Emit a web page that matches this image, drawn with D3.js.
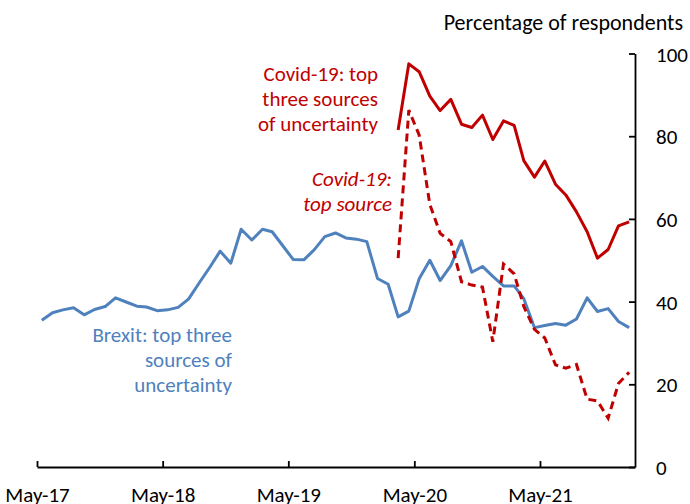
<!DOCTYPE html>
<html>
<head>
<meta charset="utf-8">
<script src="https://cdn.jsdelivr.net/npm/d3@7"></script>
<style>
  html, body { margin: 0; padding: 0; background: #fff; }
  svg { display: block; font-family: Calibri, Carlito, Lato, sans-serif; }
</style>
</head>
<body>
<svg id="chart" width="690" height="504"></svg>
<script>
// ---- data ----
const brexitStart = "2017-05";
const brexitTop3 = [35.5, 37.3, 38.0, 38.5, 36.8, 38.1, 38.8, 40.9,
  39.9, 38.9, 38.7, 37.8, 38.0, 38.6, 40.6, 44.5, 48.3, 52.2, 49.3, 57.5,
  54.9, 57.5, 56.9, 53.5, 50.2, 50.1, 52.5, 55.7, 56.6, 55.4, 55.1, 54.5,
  45.6, 44.2, 36.3, 37.7, 45.5, 50.0, 45.1, 48.7, 54.7, 47.1, 48.5, 46.1,
  43.8, 43.8, 40.7, 33.7, 34.2, 34.7, 34.3, 35.8, 40.9, 37.6, 38.3, 35.2,
  33.7];
const covidStart = "2020-03";
const covidTop3 = [81.5, 97.5, 95.6, 89.7, 86.2, 88.9, 82.9, 82.1, 85.1, 79.2,
  83.7, 82.6, 74.1, 70.1, 74.0, 68.4, 65.8, 61.7, 56.9, 50.5, 52.6, 58.3, 59.3];
const covidTop1 = [50.5, 86.3, 80.3, 63.5, 56.5, 54.5, 44.8, 44.0, 43.5, 30.3,
  49.1, 46.7, 38.8, 33.3, 31.2, 24.7, 23.9, 24.8, 16.4, 16.0, 11.8, 20.2, 22.9];
const xTickLabels = ["May-17", "May-18", "May-19", "May-20", "May-21"];
const yTicks = [0, 20, 40, 60, 80, 100];
const yAxisTitle = "Percentage of respondents";
const labelCovidTop3 = ["Covid-19: top", "three sources", "of uncertainty"];
const labelCovidTop1 = ["Covid-19:", "top source"];
const labelBrexit = ["Brexit: top three", "sources of", "uncertainty"];

// ---- helpers ----
const parseMonth = d3.timeParse("%Y-%m");
const fmtTick = d3.timeFormat("%b-%y");
function series(start, values) {
  const s = parseMonth(start);
  return values.map((v, i) => ({ date: d3.timeDay.offset(d3.timeMonth.offset(s, i), 14), value: v }));
}
const brexit = series(brexitStart, brexitTop3);
const covid3 = series(covidStart, covidTop3);
const covid1 = series(covidStart, covidTop1);

const RED = "#C00000", BLUE = "#4F81BD";
const FONT = "Calibri, Carlito, Lato, sans-serif";
const svg = d3.select("#chart");

const x = d3.scaleTime()
  .domain([parseMonth("2017-05"), parseMonth("2022-02")])
  .range([37, 635]);
const y = d3.scaleLinear().domain([0, 100]).range([467, 53.5]);

const line = d3.line().x(d => x(d.date)).y(d => y(d.value));

// axes
const xTickDates = xTickLabels.map(l => d3.timeParse("%b-%y")(l));
const xAxis = d3.axisBottom(x).tickValues(xTickDates).tickSize(-6).tickSizeOuter(0).tickFormat(fmtTick);
const gx = svg.append("g").attr("transform", `translate(0,${y(0)})`).call(xAxis);
gx.select(".domain").attr("stroke", "#000").attr("stroke-width", 1.8);
gx.selectAll(".tick line").attr("stroke", "#000").attr("stroke-width", 1.8);
gx.selectAll(".tick text").attr("y", 28).attr("dy", "0.34em")
  .attr("font-size", 21).attr("fill", "#000").attr("font-family", FONT);

const yAxis = d3.axisRight(y).tickValues(yTicks).tickSize(-6).tickSizeOuter(0).tickFormat(d3.format("d"));
const gy = svg.append("g").attr("transform", `translate(${x.range()[1]},0)`).call(yAxis);
gy.select(".domain").attr("stroke", "#000").attr("stroke-width", 1.8);
gy.selectAll(".tick line").attr("stroke", "#000").attr("stroke-width", 1.8);
gy.selectAll(".tick text").attr("x", 21).attr("dy", "0.36em")
  .attr("font-size", 21).attr("fill", "#000").attr("font-family", FONT);

svg.append("text").attr("x", 683).attr("y", 30).attr("text-anchor", "end")
  .attr("font-size", 22).attr("fill", "#000").text(yAxisTitle);

// lines
svg.append("path").datum(brexit).attr("d", line).attr("fill", "none")
  .attr("stroke", BLUE).attr("stroke-width", 3).attr("stroke-linejoin", "round");
svg.append("path").datum(covid1).attr("d", line).attr("fill", "none")
  .attr("stroke", RED).attr("stroke-width", 3).attr("stroke-dasharray", "8,5");
svg.append("path").datum(covid3).attr("d", line).attr("fill", "none")
  .attr("stroke", RED).attr("stroke-width", 3).attr("stroke-linejoin", "round");

// annotations
function block(lines, xPos, yPos, color, italic) {
  const t = svg.append("text").attr("text-anchor", "end").attr("fill", color)
    .attr("font-size", 21).attr("font-style", italic ? "italic" : "normal");
  lines.forEach((l, i) => t.append("tspan").attr("x", xPos).attr("y", yPos + i * 25.2).text(l));
}
block(labelCovidTop3, 378, 81, RED, false);
block(labelCovidTop1, 392, 186, RED, true);
block(labelBrexit, 232, 341.5, BLUE, false);
</script>
</body>
</html>
